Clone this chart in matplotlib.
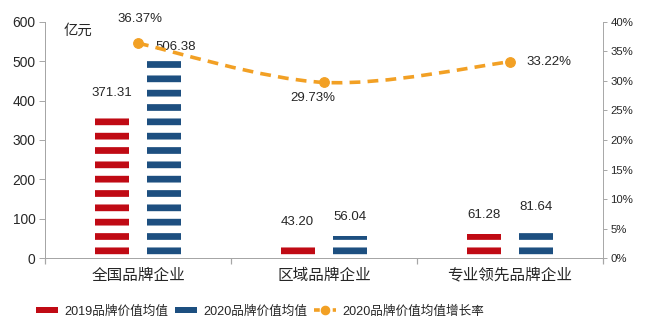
import numpy as np
import matplotlib
matplotlib.use("Agg")
import matplotlib.pyplot as plt
from matplotlib.path import Path
from matplotlib.patches import PathPatch
from matplotlib.lines import Line2D

categories = ["全国品牌企业", "区域品牌企业", "专业领先品牌企业"]
values_2019 = [371.31, 43.20, 61.28]
values_2020 = [506.38, 56.04, 81.64]
growth_2020 = [36.37, 29.73, 33.22]

red = "#C00A14"
blue = "#1D4F80"
orange = "#F2A024"
gray = "#A6A6A6"
txt = "#262626"

DPI = 86.4
plt.rcParams["font.family"] = ["Liberation Sans", "Noto Sans CJK SC"]
plt.rcParams["hatch.linewidth"] = 5.6

fig = plt.figure(figsize=(650 / DPI, 327 / DPI), dpi=DPI)
ax = fig.add_axes([0.0692, 0.2104, 0.8585, 0.7232])
ax2 = ax.twinx()

x = np.arange(len(categories))
w = 0.183
off = 0.142

ax.bar(x - off, values_2019, w, facecolor="none", edgecolor=red, linewidth=0, hatch="-")
ax.bar(x + off, values_2020, w, facecolor="none", edgecolor=blue, linewidth=0, hatch="-")

for i in range(len(categories)):
    ax.text(x[i] - off, values_2019[i] + 48, f"{values_2019[i]:.2f}", ha="center", va="center",
            fontsize=11, color=txt)
    if i == 0:
        ax.text(x[i] + off + 0.06, values_2020[i] + 30, f"{values_2020[i]:.2f}", ha="center",
                va="center", fontsize=11, color=txt)
    else:
        ax.text(x[i] + off, values_2020[i] + 48, f"{values_2020[i]:.2f}", ha="center",
                va="center", fontsize=11, color=txt)

ax.set_xlim(-0.5, 2.5)
ax.set_ylim(0, 600)
ax.set_yticks(range(0, 601, 100))
ax.set_xticks(x)
ax.set_xticklabels(categories, fontsize=13)
ax.set_xticks([-0.5, 0.5, 1.5, 2.5], minor=True)
ax.tick_params(axis="x", which="major", length=0, pad=8, colors=txt)
ax.tick_params(axis="x", which="minor", length=5, color=gray, width=1)
ax.tick_params(axis="y", length=5, color=gray, labelsize=11.5, labelcolor=txt, pad=3)
ax.text(0.033, 0.96, "亿元", transform=ax.transAxes, fontsize=12, color=txt, va="center")

for a in (ax, ax2):
    a.spines["top"].set_visible(False)
    for s in ("left", "right", "bottom"):
        a.spines[s].set_color(gray)
ax.spines["right"].set_visible(False)

# smoothed growth line (Bezier through the data points)
px = list(x.astype(float))
py = list(growth_2020)
n = len(px)
verts = [(px[0], py[0])]
codes = [Path.MOVETO]
for i in range(n - 1):
    p0 = np.array([px[max(i - 1, 0)], py[max(i - 1, 0)]])
    p1 = np.array([px[i], py[i]])
    p2 = np.array([px[i + 1], py[i + 1]])
    p3 = np.array([px[min(i + 2, n - 1)], py[min(i + 2, n - 1)]])
    c1 = p1 + (p2 - p0) / 6
    c2 = p2 - (p3 - p1) / 6
    verts += [tuple(c1), tuple(c2), tuple(p2)]
    codes += [Path.CURVE4] * 3
ax2.add_patch(PathPatch(Path(verts, codes), fill=False, edgecolor=orange, lw=3,
                        linestyle=(0, (3, 2)), capstyle="butt"))
ax2.plot(x, growth_2020, "o", color=orange, markersize=8, linestyle="none")

ax2.text(x[0] + 0.01, growth_2020[0] + 4.1, f"{growth_2020[0]:.2f}%", ha="center", va="center",
         fontsize=11, color=txt, clip_on=False)
ax2.text(x[1] - 0.06, growth_2020[1] - 2.6, f"{growth_2020[1]:.2f}%", ha="center", va="center",
         fontsize=11, color=txt)
ax2.text(x[2] + 0.09, growth_2020[2], f"{growth_2020[2]:.2f}%", ha="left", va="center",
         fontsize=11, color=txt)

ax2.set_ylim(0, 40)
ax2.set_yticks(range(0, 41, 5))
ax2.set_yticklabels([f"{v}%" for v in range(0, 41, 5)])
ax2.tick_params(axis="y", length=3, color=gray, labelsize=9.5, labelcolor=txt, pad=3)

handles = [
    Line2D([], [], color=red, lw=5, solid_capstyle="butt"),
    Line2D([], [], color=blue, lw=5, solid_capstyle="butt"),
    Line2D([], [], color=orange, lw=3, ls=(0, (1.6, 1.0)), marker="o", markersize=7),
]
labels = ["2019品牌价值均值", "2020品牌价值均值", "2020品牌价值均值增长率"]
fig.legend(handles, labels, loc="center", bbox_to_anchor=(0.40, 0.048), ncol=3, frameon=False,
           fontsize=10.5, handlelength=1.75, handletextpad=0.5, columnspacing=0.5,
           labelcolor=txt)

fig.savefig("out.png", dpi=DPI)
